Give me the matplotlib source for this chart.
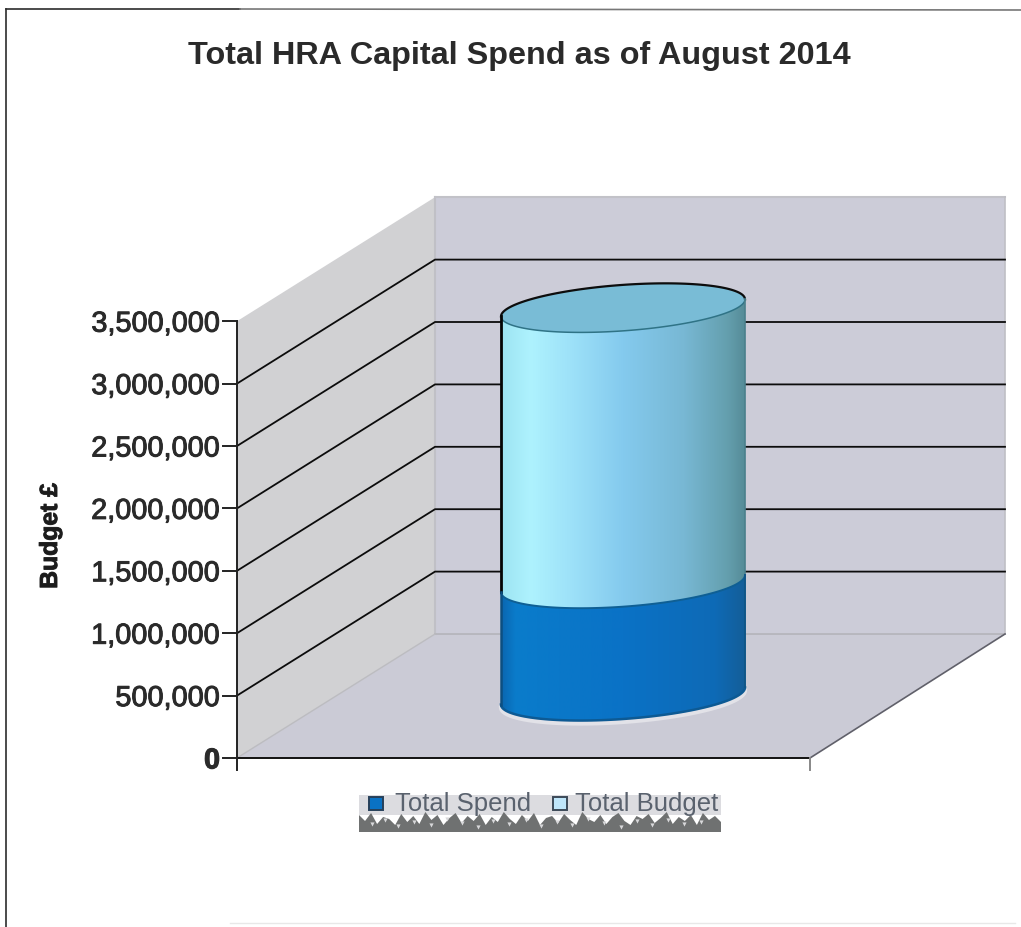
import numpy as np
import matplotlib
matplotlib.use("Agg")
import matplotlib.pyplot as plt
import matplotlib.patheffects as pe
from matplotlib.colors import LinearSegmentedColormap
from matplotlib.patches import Polygon, Rectangle

plt.rcParams["font.family"] = ["Liberation Sans", "DejaVu Sans"]

# Chart content
title = "Total HRA Capital Spend as of August 2014"
y_label = "Budget £"
y_ticks = [0, 500000, 1000000, 1500000, 2000000, 2500000, 3000000, 3500000]
series_names = ["Total Spend", "Total Budget"]
total_spend = 900000
total_budget = 3110000

W, H = 1021, 928
fig = plt.figure(figsize=(W / 100, H / 100), dpi=100, facecolor="white")
ax = fig.add_axes([0, 0, 1, 1])

# 3D box geometry in canvas pixels
FRONT_X, BACK_X = 237, 435
FRONT_R, BACK_R = 810, 1005
FRONT_Y0, BACK_Y0 = 759, 635
PX_PER_UNIT = 62.4 / 500000


def front_y(v):
    return FRONT_Y0 - v * PX_PER_UNIT


def back_y(v):
    return BACK_Y0 - v * PX_PER_UNIT


vmax = y_ticks[-1]
heavy = [pe.withStroke(linewidth=0.7, foreground="#2a2a2a")]

# Walls and floor
ax.add_patch(Polygon([(FRONT_X, front_y(0)), (FRONT_X, front_y(vmax)), (BACK_X, back_y(vmax)),
                      (BACK_X, back_y(0))], fc="#d1d1d3", ec="none", zorder=1))
ax.add_patch(Polygon([(BACK_X, back_y(0)), (BACK_X, back_y(vmax)), (BACK_R, back_y(vmax)),
                      (BACK_R, back_y(0))], fc="#ccccd8", ec="none", zorder=1))
ax.add_patch(Polygon([(FRONT_X, front_y(0)), (BACK_X, back_y(0)), (BACK_R, back_y(0)),
                      (FRONT_R, front_y(0))], fc="#cbcbd6", ec="none", zorder=1))
ax.plot([BACK_X, BACK_X], [back_y(0), back_y(vmax)], color="#c0c0c6", lw=1.5, zorder=2)
ax.plot([BACK_X, BACK_R], [back_y(vmax)] * 2, color="#c2c2c8", lw=1.5, zorder=2)
ax.plot([BACK_R, BACK_R], [back_y(0), back_y(vmax)], color="#bfbfc5", lw=1.2, zorder=2)
ax.plot([BACK_X, BACK_R], [back_y(0)] * 2, color="#b4b4ba", lw=1.2, zorder=2)
ax.plot([FRONT_R, BACK_R], [front_y(0), back_y(0)], color="#60606a", lw=1.2, zorder=2)
ax.plot([FRONT_X, BACK_X], [front_y(0), back_y(0)], color="#bcbcc0", lw=1.0, zorder=2)

# Gridlines wrapping the left and back walls
for v in y_ticks[1:-1]:
    ax.plot([FRONT_X, BACK_X, BACK_R], [front_y(v), back_y(v), back_y(v)],
            color="#0c0c0c", lw=1.3, zorder=3, solid_joinstyle="round")

# Axis lines and tick marks
ax.plot([FRONT_X, FRONT_X], [front_y(vmax), front_y(0) + 12], color="#222222", lw=1.4, zorder=4)
ax.plot([FRONT_X, FRONT_R], [front_y(0), front_y(0)], color="#111111", lw=1.4, zorder=4)
ax.plot([FRONT_R, FRONT_R], [front_y(0), front_y(0) + 12], color="#888888", lw=1.4, zorder=4)
for v in y_ticks:
    ax.plot([FRONT_X - 14, FRONT_X], [front_y(v)] * 2, color="#222222", lw=1.4, zorder=4)
    ax.text(FRONT_X - 17, front_y(v) + 2.5, f"{v:,}", ha="right", va="center", fontsize=20.8,
            color="#2a2a2a", fontweight="bold" if v == 0 else "normal", zorder=5, path_effects=heavy)

# Cylinder geometry
CX, RX, RY, SLOPE = 623, 122, 23, -0.07
BASE_Y = 697


def rim(v, t):
    """Points on the tilted elliptical rim of the cylinder at height v."""
    x = CX + RX * np.cos(t)
    y = BASE_Y - v * PX_PER_UNIT + SLOPE * (x - CX) + RY * np.sin(t)
    return np.column_stack([x, y])


front_half = np.linspace(0, np.pi, 80)
full_turn = np.linspace(0, 2 * np.pi, 160)
top_half = np.linspace(np.pi, 2 * np.pi, 80)


def gradient_side(v_low, v_high, stops):
    outline = np.vstack([rim(v_high, front_half[::-1]), rim(v_low, front_half)])
    patch = Polygon(outline, fc="none", ec="none", zorder=6)
    ax.add_patch(patch)
    cmap = LinearSegmentedColormap.from_list("side", stops)
    grad = np.linspace(0, 1, 256)[None, :]
    im = ax.imshow(grad, cmap=cmap, extent=(CX - RX, CX + RX, 800, 250), aspect="auto",
                   zorder=6, interpolation="bilinear")
    im.set_clip_path(patch)


budget_stops = [(0.0, "#9de4f2"), (0.12, "#aef2fe"), (0.3, "#9ce0f8"), (0.5, "#84caee"),
                (0.75, "#78b8d4"), (0.93, "#649fae"), (1.0, "#568c98")]
spend_stops = [(0.0, "#0a66b0"), (0.06, "#0a7ccb"), (0.5, "#0a72c6"), (0.88, "#0e6ab6"), (1.0, "#145e98")]

# Pale halo around the foot of the cylinder
ax.plot(*(rim(0, front_half) + [0, 3]).T, color="#e2e2e8", lw=3.0, zorder=5)

gradient_side(0, total_budget, budget_stops)
gradient_side(0, total_spend, spend_stops)

# Top cap and edge lines
ax.add_patch(Polygon(rim(total_budget, full_turn), fc="#79bcd6", ec="none", zorder=7))
ax.plot(*rim(total_budget, top_half).T, color="#0d0d0d", lw=1.6, zorder=8)
ax.plot(*rim(total_budget, front_half).T, color="#2f7386", lw=1.1, zorder=8)
ax.plot(*rim(total_spend, front_half).T, color="#0f5f94", lw=1.4, zorder=8)
ax.plot(*rim(0, front_half).T, color="#0d5a94", lw=1.8, zorder=8)
left_top = rim(total_budget, np.array([np.pi]))[0]
left_mid = rim(total_spend, np.array([np.pi]))[0]
left_low = rim(0, np.array([np.pi]))[0]
right_top = rim(total_budget, np.array([0.0]))[0]
right_mid = rim(total_spend, np.array([0.0]))[0]
right_low = rim(0, np.array([0.0]))[0]
ax.plot([left_top[0], left_mid[0]], [left_top[1], left_mid[1]], color="#050505", lw=2.0, zorder=8)
ax.plot([left_mid[0], left_low[0]], [left_mid[1], left_low[1]], color="#0d4f80", lw=1.8, zorder=8)
ax.plot([right_top[0], right_mid[0]], [right_top[1], right_mid[1]], color="#4a808c", lw=1.2, zorder=8)
ax.plot([right_mid[0], right_low[0]], [right_mid[1], right_low[1]], color="#0f5688", lw=1.4, zorder=8)

# Title and axis label
ax.text(519, 56, title, ha="center", va="center", fontsize=23.3, fontweight="bold", color="#2a2a2a")
ax.text(50, 537, y_label, rotation=90, ha="center", va="center", fontsize=17.8,
        fontweight="bold", color="#1c1c1c", path_effects=heavy)

# Legend with its speckled dark streak underneath
ax.add_patch(Rectangle((359, 796), 362, 20, fc="#dcdce0", ec="none", zorder=2))
streak_x = np.linspace(359, 721, 61)
streak_top = [816, 822, 814, 825, 818, 820, 826, 815, 823, 817, 825, 813, 821, 816, 826, 819, 814, 824, 817,
              822, 815, 826, 818, 823, 813, 820, 825, 816, 822, 814, 826, 819, 817, 824, 815, 821, 826, 813,
              820, 823, 816, 825, 818, 814, 822, 826, 817, 820, 815, 824, 819, 813, 825, 818, 822, 816, 826,
              814, 821, 817, 823]
ax.add_patch(Polygon(list(zip(streak_x, streak_top)) + [(721, 833), (359, 833)],
                     fc="#6f7171", ec="none", zorder=3))
fleck_x = [372, 385, 398, 414, 431, 447, 462, 478, 493, 509, 526, 541, 557, 572, 588, 604, 621, 637, 652, 668, 684, 701]
fleck_y = [825, 821, 827, 823, 826, 820, 824, 828, 822, 825, 821, 827, 823, 826, 820, 824, 828, 822, 826, 821, 825, 823]
ax.scatter(fleck_x, fleck_y, s=9, marker="v", color="#d8d8da", linewidths=0, zorder=4)
ax.add_patch(Rectangle((369, 798), 14, 13, fc="#0a72c4", ec="#27405a", lw=1.4, zorder=4))
ax.add_patch(Rectangle((553, 798), 14, 13, fc="#bfe6fa", ec="#3c4a58", lw=1.4, zorder=4))
ax.text(395, 804, series_names[0], ha="left", va="center", fontsize=18.5, color="#5a626e", zorder=5)
ax.text(575, 804, series_names[1], ha="left", va="center", fontsize=18.5, color="#5a626e", zorder=5)

# Outer chart frame
ax.plot([6, 6], [10, H], color="#2c2c2c", lw=1.2, zorder=2)
ax.plot([6, 240], [10, 10], color="#2c2c2c", lw=1.2, zorder=2)
ax.plot([240, W], [10, 11], color="#777777", lw=1.2, zorder=2)
ax.plot([230, 1015], [924, 924], color="#e8e8e8", lw=1.0, zorder=2)

ax.set_xlim(0, W)
ax.set_ylim(H, 0)
ax.axis("off")
fig.savefig("out.png", dpi=100, facecolor="white")
